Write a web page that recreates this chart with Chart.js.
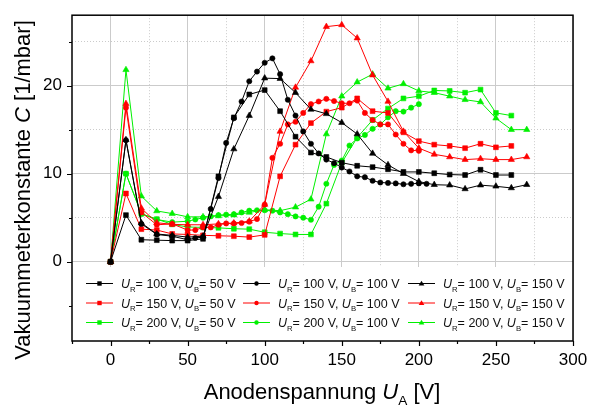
<!DOCTYPE html>
<html>
<head>
<meta charset="utf-8">
<script src="https://cdn.jsdelivr.net/npm/chart.js@4/dist/chart.umd.min.js"></script>
<style>
  html, body { margin: 0; padding: 0; background: #fff; }
  #wrap { width: 596px; height: 407px; }
</style>
</head>
<body>
<div id="wrap"><canvas id="c"></canvas></div>
<script>
// anode voltage grids (V)
const x10 = [0,10,20,30,40,50,60,70,80,90,100,110,120,130,140,150,160,170,180,190,200,210,220,230,240,250,260];
const x10long = [...x10, 270];
const x5a = [0,10,20,30,40,50,55,60,65,70,75,80,85,90,95,100,105,110,115,120,125,130,135,140,145,150,155,160,165,170,175,180,185,190,195,200,205];
const x5b = x5a.slice(0, 36);

// vacuum gauge constant C (1/mbar)
const blackSq  = [0,5.3,2.5,2.45,2.4,2.4,2.6,9.7,16.4,19.0,19.5,17.1,14.2,12.4,11.9,11.25,10.9,10.75,10.5,10.2,10.2,10.05,9.9,9.85,10.45,9.85,9.85];
const blackCir = [0,13.8,4.3,3.1,2.9,2.5,2.7,2.8,6.0,9.5,13.5,16.3,18.2,20.5,21.6,22.6,23.1,21.3,18.4,16.6,14.8,13.4,12.3,11.6,11.2,10.7,10.25,9.7,9.6,9.2,9.0,8.95,8.9,8.8,8.85,8.9,8.85];
const blackTri = [0,13.85,4.4,3.15,3.0,2.8,2.9,7.4,12.8,16.6,20.85,20.8,19.2,17.3,16.8,15.8,14.5,12.3,11.0,10.0,9.1,8.75,8.7,8.27,8.7,8.57,8.38,8.75];
const redSq    = [0,7.75,3.7,3.6,3.16,3.1,3.0,2.95,2.9,2.8,3.05,9.7,13.3,15.75,17.05,17.5,18.55,17.1,16.9,14.7,13.7,13.3,13.15,12.9,13.4,13.0,13.15];
const redCir   = [0,17.5,5.6,4.2,4.3,3.6,3.6,3.9,3.9,4.2,4.35,4.35,4.4,4.55,4.85,6.5,11.8,13.4,15.6,15.9,16.9,17.9,18.2,18.5,18.25,18.0,18.0,18.3,16.9,16.1,15.6,15.6,14.45,13.4,12.65,12.6];
const redTri   = [0,17.95,6.07,4.43,4.25,4.2,4.2,4.3,4.4,4.6,6.5,14.8,19.8,22.8,26.7,26.9,25.4,21.2,18.2,14.8,12.9,12.2,11.9,11.6,11.7,11.6,11.6,11.9];
const greenSq  = [0,10.0,5.45,4.84,4.25,3.95,3.9,3.85,3.75,3.7,3.35,3.2,3.1,3.1,6.6,11.25,14.1,16.1,17.4,18.55,18.8,19.45,19.4,19.2,19.55,16.9,16.6];
const greenCir = [0,10.0,5.45,4.8,4.5,4.6,4.8,5.0,5.15,5.3,5.35,5.4,5.6,5.8,5.85,5.85,5.8,5.6,5.4,5.15,5.0,4.77,6.25,8.86,11.0,11.5,13.2,14.0,14.4,15.1,15.6,16.4,17.1,17.05,17.5,17.9];
const greenTri = [0,21.8,7.45,5.77,5.47,5.1,5.1,5.2,5.3,5.6,5.9,5.8,6.2,7.1,14.5,18.8,20.4,21.3,19.7,20.2,19.4,19.2,18.8,18.4,18.15,16.3,15.0,15.0];

const urLabels = ['100', '150', '200'];
const ubLabels = ['50', '100', '150'];
const xTickLabels = [0, 50, 100, 150, 200, 250, 300];
const yTickLabels = [0, 10, 20];

const colors = ['#000000', '#ff0000', '#00f000'];
const styles = ['rect', 'circle', 'triangle'];
const radii = { rect: 3.4, circle: 2.6, triangle: 3.6 };

const seriesX = [
  [x10, x5a, x10long],
  [x10, x5b, x10long],
  [x10, x5b, x10long]
];
const seriesY = [
  [blackSq, blackCir, blackTri],
  [redSq, redCir, redTri],
  [greenSq, greenCir, greenTri]
];

const FONT = 'Arial, "Liberation Sans", Helvetica, sans-serif';

const datasets = [];
for (let r = 0; r < 3; r++) {
  for (let b = 0; b < 3; b++) {
    const xs = seriesX[r][b], ys = seriesY[r][b];
    datasets.push({
      label: 'UR=' + urLabels[r] + ' V, UB=' + ubLabels[b] + ' V',
      data: xs.map((x, i) => ({ x: x, y: ys[i] })),
      borderColor: colors[r],
      backgroundColor: colors[r],
      borderWidth: 1,
      pointStyle: styles[b],
      pointRadius: radii[styles[b]],
      pointBorderWidth: 0.6,
      tension: 0
    });
  }
}

// text with italic symbols and subscripts
function drawRich(ctx, parts, x, y, size) {
  let cx = x;
  for (const p of parts) {
    let fs = size, dy = 0, st = '';
    if (p.s === 'i') st = 'italic ';
    if (p.s === 'sub') { fs = size * 0.62; dy = size * 0.28; }
    ctx.font = st + fs + 'px ' + FONT;
    ctx.fillText(p.t, cx, y + dy);
    cx += ctx.measureText(p.t).width;
  }
  return cx - x;
}
function richWidth(ctx, parts, size) {
  let w = 0;
  for (const p of parts) {
    let fs = size, st = '';
    if (p.s === 'i') st = 'italic ';
    if (p.s === 'sub') fs = size * 0.62;
    ctx.font = st + fs + 'px ' + FONT;
    w += ctx.measureText(p.t).width;
  }
  return w;
}

function marker(ctx, style, x, y, r, color) {
  ctx.fillStyle = color;
  ctx.beginPath();
  if (style === 'rect') {
    ctx.rect(x - r, y - r, 2 * r, 2 * r);
  } else if (style === 'circle') {
    ctx.arc(x, y, r, 0, Math.PI * 2);
  } else {
    ctx.moveTo(x, y - r * 1.1);
    ctx.lineTo(x + r * 1.1, y + r * 0.8);
    ctx.lineTo(x - r * 1.1, y + r * 0.8);
    ctx.closePath();
  }
  ctx.fill();
}

const decor = {
  id: 'decor',
  afterDatasetsDraw(chart) {
    const ctx = chart.ctx;
    const a = chart.chartArea;
    // legend block inside the plot
    ctx.save();
    ctx.fillStyle = '#fff';
    ctx.fillRect(a.left + 1, 267, a.right - a.left - 2, a.bottom - 267);
    const textX = [121, 278, 443];
    const rowY = [283.5, 303, 322.5];
    for (let r = 0; r < 3; r++) {
      for (let b = 0; b < 3; b++) {
        const tx = textX[b], y = rowY[r];
        ctx.strokeStyle = colors[r];
        ctx.lineWidth = 1;
        ctx.beginPath();
        ctx.moveTo(tx - 35, y);
        ctx.lineTo(tx - 8, y);
        ctx.stroke();
        marker(ctx, styles[b], tx - 21.5, y, styles[b] === 'triangle' ? 2.6 : 2.2, colors[r]);
        ctx.fillStyle = '#111';
        ctx.textBaseline = 'alphabetic';
        ctx.textAlign = 'left';
        drawRich(ctx, [
          { t: 'U', s: 'i' }, { t: 'R', s: 'sub' }, { t: '= ' + urLabels[r] + ' V, ', s: 'n' },
          { t: 'U', s: 'i' }, { t: 'B', s: 'sub' }, { t: '= ' + ubLabels[b] + ' V', s: 'n' }
        ], tx, y + 4.5, 12.5);
      }
    }
    ctx.restore();
  },
  afterDraw(chart) {
    const ctx = chart.ctx;
    const a = chart.chartArea;
    const xs = chart.scales.x, ys = chart.scales.y;
    ctx.save();
    // frame
    ctx.strokeStyle = '#000';
    ctx.lineWidth = 1.5;
    ctx.strokeRect(a.left, a.top, a.right - a.left, a.bottom - a.top);
    // outward ticks
    ctx.lineWidth = 1.2;
    ctx.beginPath();
    for (let v = -25; v <= 300; v += 25) {
      const px = Math.round(xs.getPixelForValue(v)) + 0.5;
      const len = v % 50 === 0 ? 5 : 3;
      ctx.moveTo(px, a.bottom);
      ctx.lineTo(px, a.bottom + len);
    }
    for (let v = -5; v <= 25; v += 5) {
      const py = Math.round(ys.getPixelForValue(v)) + 0.5;
      const len = v % 10 === 0 ? 5 : 3;
      ctx.moveTo(a.left, py);
      ctx.lineTo(a.left - len, py);
    }
    ctx.stroke();

    // axis titles
    ctx.fillStyle = '#000';
    ctx.textBaseline = 'alphabetic';
    ctx.textAlign = 'left';
    const xt = [{ t: 'Anodenspannung ', s: 'n' }, { t: 'U', s: 'i' }, { t: 'A', s: 'sub' }, { t: ' [V]', s: 'n' }];
    const xw = richWidth(ctx, xt, 22);
    drawRich(ctx, xt, 322 - xw / 2, 399, 22);

    const yt = [{ t: 'Vakuummeterkonstante ', s: 'n' }, { t: 'C', s: 'i' }, { t: ' [1/mbar]', s: 'n' }];
    const yw = richWidth(ctx, yt, 22);
    ctx.translate(30, 190);
    ctx.rotate(-Math.PI / 2);
    drawRich(ctx, yt, -yw / 2, 0, 22);
    ctx.restore();
  }
};

const gridColor = '#cbcbcb';

new Chart(document.getElementById('c'), {
  type: 'line',
  data: { datasets: datasets },
  options: {
    responsive: true,
    maintainAspectRatio: false,
    animation: false,
    events: [],
    layout: { padding: { top: 9, right: 23, left: 0, bottom: 0 } },
    plugins: { legend: { display: false }, tooltip: { enabled: false } },
    scales: {
      x: {
        type: 'linear',
        min: -25,
        max: 300,
        afterBuildTicks: s => { s.ticks = s.ticks.filter(t => t.value % 25 === 0); },
        afterFit: s => { s.height = 66; },
        ticks: {
          stepSize: 25,
          autoSkip: false,
          maxRotation: 0,
          padding: 4,
          color: '#000',
          font: { family: FONT, size: 17 },
          callback: v => xTickLabels.includes(v) ? String(v) : ''
        },
        grid: {
          color: ctx => ctx.tick && ctx.tick.value === -25 ? 'rgba(0,0,0,0)' : gridColor,
          lineWidth: 1,
          tickLength: 5,
          tickColor: 'rgba(0,0,0,0)'
        },
        border: {
          display: false,
          dash: ctx => ctx.tick && ctx.tick.value % 50 !== 0 ? [1, 2] : []
        }
      },
      y: {
        type: 'linear',
        min: -9,
        max: 28,
        afterBuildTicks: s => { s.ticks = s.ticks.filter(t => t.value % 5 === 0); },
        afterFit: s => { s.width = 72; },
        ticks: {
          stepSize: 5,
          padding: 5,
          color: '#000',
          font: { family: FONT, size: 17 },
          callback: v => yTickLabels.includes(v) ? String(v) : ''
        },
        grid: {
          color: gridColor,
          lineWidth: 1,
          tickLength: 5,
          tickColor: 'rgba(0,0,0,0)'
        },
        border: {
          display: false,
          dash: ctx => ctx.tick && ctx.tick.value % 10 !== 0 ? [1, 2] : []
        }
      }
    }
  },
  plugins: [decor]
});
</script>
</body>
</html>
